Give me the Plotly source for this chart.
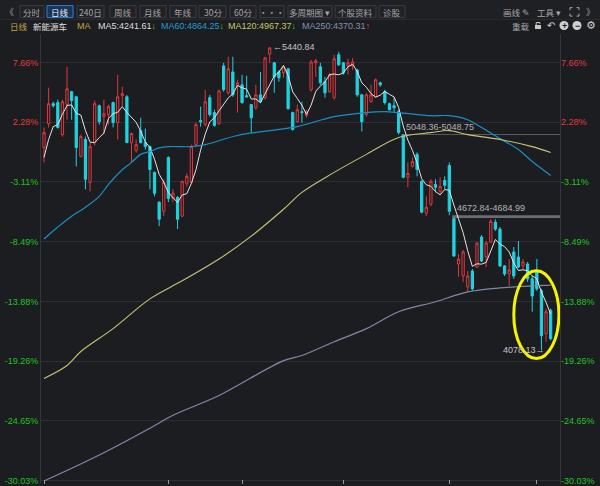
import plotly.graph_objects as go
import pandas as pd

# ---------------- data ----------------
candle_no = list(range(1, 112))
open_p = [4990, 5097, 5187, 5192, 5048, 5183, 5241, 5218, 4950, 5026,
          4833, 5012, 5178, 5129, 5138, 5192, 5102, 5223, 5218, 5012,
          4977, 5066, 5012, 4994, 4878, 4744, 4703, 4945, 4761, 4766,
          4681, 4829, 4833, 5003, 5111, 5093, 5214, 5147, 5097, 5357,
          5236, 5330, 5268, 5272, 5223, 5183, 5169, 5227, 5214, 5411,
          5371, 5330, 5326, 5344, 5147, 5106, 5151, 5133, 5250, 5371,
          5353, 5286, 5241, 5214, 5407, 5371, 5357, 5357, 5339, 5227,
          5138, 5196, 5218, 5281, 5241, 5187, 5178, 5151, 5046, 4856,
          4905, 4959, 4838, 4694, 4735, 4824, 4793, 4842, 4909, 4670,
          4466, 4412, 4363, 4434, 4452, 4587, 4497, 4564, 4654, 4623,
          4457, 4421, 4520, 4497, 4457, 4466, 4399, 4434, 4345, 4152,
          4258]
high_p = [5080, 5259, 5196, 5205, 5205, 5353, 5245, 5223, 5048, 5039,
          5012, 5201, 5183, 5205, 5183, 5196, 5317, 5263, 5226, 5057,
          5026, 5124, 5075, 4999, 4882, 4748, 4847, 4950, 4802, 4770,
          4840, 4873, 5003, 5102, 5174, 5250, 5227, 5160, 5250, 5371,
          5398, 5398, 5295, 5317, 5313, 5185, 5272, 5330, 5398, 5440.84,
          5375, 5339, 5357, 5348, 5151, 5183, 5196, 5160, 5384, 5389,
          5371, 5308, 5326, 5407, 5420, 5375, 5389, 5393, 5344, 5229,
          5236, 5272, 5300, 5286, 5250, 5192, 5214, 5160, 5048.36, 4923,
          4945, 4968, 4842, 4770, 4847, 4847, 4856, 4860, 4923, 4672.84,
          4511, 4529, 4434, 4443, 4564, 4596, 4569, 4667, 4667, 4632,
          4461, 4488, 4542, 4569, 4488, 4475, 4412, 4488, 4354, 4265,
          4265]
low_p = [4923, 5080, 5169, 5075, 5039, 5115, 5115, 4905, 4945, 4802,
         4793, 4999, 5093, 5048, 5093, 5080, 5026, 5174, 5010, 4923,
         4968, 5008, 4981, 4802, 4770, 4636, 4681, 4744, 4744, 4623,
         4676, 4815, 4829, 4994, 5084, 5084, 5129, 5084, 5093, 5241,
         5227, 5218, 5147, 5187, 5214, 5057, 5160, 5192, 5205, 5371,
         5236, 5286, 5304, 5160, 5066, 5102, 5102, 5124, 5241, 5308,
         5272, 5214, 5236, 5205, 5357, 5317, 5317, 5339, 5218, 5062,
         5129, 5192, 5214, 5263, 5183, 5156, 5151, 5048.75, 4851, 4811,
         4900, 4860, 4694, 4681, 4726, 4788, 4780, 4802, 4684.99, 4497,
         4408, 4385, 4340, 4345, 4448, 4475, 4452, 4560, 4614, 4452,
         4412, 4367, 4399, 4448, 4443, 4385, 4251, 4345, 4078.13, 4116,
         4122]
close_p = [5057, 5187, 5178, 5080, 5196, 5254, 5201, 4990, 5039, 4847,
           4994, 5187, 5106, 5142, 5174, 5102, 5218, 5232, 5012, 5053,
           5003, 5012, 4994, 4891, 4784, 4667, 4833, 4761, 4784, 4667,
           4838, 4860, 4994, 5093, 5106, 5196, 5138, 5089, 5245, 5250,
           5344, 5227, 5281, 5192, 5218, 5124, 5227, 5196, 5393, 5438,
           5308, 5304, 5353, 5165, 5071, 5160, 5147, 5151, 5375, 5380,
           5281, 5236, 5317, 5389, 5362, 5326, 5371, 5375, 5227, 5106,
           5227, 5227, 5295, 5272, 5192, 5160, 5169, 5057, 4856, 4873,
           4927, 4891, 4699, 4721, 4838, 4811, 4815, 4820, 4703, 4502,
           4488, 4520, 4412, 4354, 4560, 4479, 4560, 4658, 4623, 4457,
           4421, 4439, 4412, 4452, 4475, 4399, 4322, 4354, 4143, 4251,
           4130]

ma5_head = [4945, 5026, 5084, 5093]          # MA5 of the first four candles (read)

ma60_no = [1, 4, 7, 10, 13, 15, 18, 20, 22, 24, 26, 28, 33, 36, 43, 50, 56,
           64, 71, 75, 78, 85, 89, 93, 96, 100, 104, 107, 111]
ma60_val = [4578, 4632, 4681, 4721, 4770, 4824, 4890, 4923, 4959, 4972, 4988,
            4994, 4994, 5003, 5044, 5066, 5084, 5129, 5147, 5151, 5147, 5133,
            5133, 5115, 5080, 5030, 4981, 4927, 4864.25]

ma120_no = [1, 6, 9, 16, 24, 31, 39, 46, 53, 57, 64, 71, 78, 85, 89, 93, 100,
            107, 111]
ma120_val = [3951, 4009, 4072, 4175, 4309, 4390, 4488, 4591, 4712, 4788, 4878,
             4959, 5035, 5057, 5066, 5048, 5026, 4994, 4967.37]

ma250_no = [1, 13, 24, 29, 39, 53, 57, 64, 71, 78, 86, 93, 100, 107, 111]
ma250_val = [3489, 3606, 3727, 3785, 3874, 4031, 4054, 4116, 4175, 4251, 4296,
             4340, 4358, 4367, 4370.31]

base_price = 4990
pct_ticks = [7.66, 2.28, -3.11, -8.49, -13.88, -19.26, -24.65, -30.03]
month_ticks = [1, 28, 44, 66, 89, 108]

gap_upper = (5048.36, 5048.75)
gap_upper_start = 79
gap_lower = (4672.84, 4684.99)
gap_lower_start = 90

legend_items = [("MA5:4241.61", "#dedede", "↓"),
                ("MA60:4864.25", "#1f9bd6", "↓"),
                ("MA120:4967.37", "#c9c46a", "↓"),
                ("MA250:4370.31", "#8391b4", "↑")]
toolbar_buttons = ["分时", "日线", "240日", "周线", "月线", "年线", "30分", "60分",
                   "•••", "多周期图 ▾", "个股资料", "诊股"]
selected_button = "日线"

highlight_candles = (103.0, 112.8)
highlight_prices = (4040, 4435)

# ---------------- styling / geometry ----------------
W, H = 600, 486
ML, MR, MT, MB = 41, 40, 34, 0
PW, PH = W - ML - MR, H - MT - MB
BG = "#1c1d21"
GRID = "#2c2e33"
RED = "#e0383c"
CYAN = "#1fd3e0"
TXT_RED = "#e23a3a"
TXT_GREEN = "#22c322"
FONT = "Liberation Sans, Noto Sans CJK SC, sans-serif"
CJK = "Noto Sans CJK SC, Liberation Sans, sans-serif"

X_RANGE = [0.349, 113.03]
Y_RANGE = [3475.8, 5500.7]


def fx(x):
    return (x - ML) / PW


def fy(y):
    return (H - MB - y) / PH


ma5 = pd.Series(close_p).rolling(5).mean().tolist()
ma5[:4] = ma5_head

fig = go.Figure()
fig.add_trace(go.Candlestick(
    x=candle_no, open=open_p, high=high_p, low=low_p, close=close_p,
    increasing=dict(line=dict(color=RED, width=1), fillcolor=BG),
    decreasing=dict(line=dict(color=CYAN, width=1), fillcolor=CYAN),
    whiskerwidth=0, showlegend=False, hoverinfo="skip"))
fig.add_trace(go.Scatter(x=candle_no, y=ma5, mode="lines",
                         line=dict(color="#e4e4e4", width=1), showlegend=False))
fig.add_trace(go.Scatter(x=ma60_no, y=ma60_val, mode="lines", line_shape="spline",
                         line=dict(color="#1b8fc4", width=1.2), showlegend=False))
fig.add_trace(go.Scatter(x=ma120_no, y=ma120_val, mode="lines", line_shape="spline",
                         line=dict(color="#c8c473", width=1.1), showlegend=False))
fig.add_trace(go.Scatter(x=ma250_no, y=ma250_val, mode="lines", line_shape="spline",
                         line=dict(color="#7e89a3", width=1.2), showlegend=False,
                         yaxis="y2"))

tickvals = [base_price * (1 + p / 100) for p in pct_ticks]
ticktext = [f"<span style='color:{TXT_RED if p > 0 else TXT_GREEN}'>{p:.2f}%</span>"
            for p in pct_ticks]

fig.update_layout(
    width=W, height=H, margin=dict(l=ML, r=MR, t=MT, b=MB),
    paper_bgcolor=BG, plot_bgcolor=BG,
    font=dict(family=FONT, size=9, color="#b0b0b0"),
    xaxis=dict(range=X_RANGE, showgrid=False, zeroline=False,
               rangeslider=dict(visible=False), tickvals=month_ticks,
               ticks="inside", ticklen=4, tickcolor="#9a9a9a",
               showticklabels=False, showline=False),
    yaxis=dict(range=Y_RANGE, tickvals=tickvals, ticktext=ticktext,
               showgrid=True, gridcolor=GRID, gridwidth=1, zeroline=False,
               showline=True, linecolor="#34363c", mirror=True, ticks="",
               ticklabeloverflow="allow",
               tickfont=dict(family=FONT, size=9)),
    yaxis2=dict(range=Y_RANGE, overlaying="y", side="right", tickvals=tickvals,
                ticktext=ticktext, showgrid=False, zeroline=False, ticks="",
                ticklabeloverflow="allow",
                tickfont=dict(family=FONT, size=9)),
)

shapes = []
annotations = []

# gap lines
shapes.append(dict(type="rect", xref="x", yref="y", x0=gap_upper_start - 0.4,
                   x1=X_RANGE[1], y0=gap_upper[0] - 1.5, y1=gap_upper[1] + 1.5,
                   fillcolor="#6a6c71", line=dict(width=0), layer="below"))
shapes.append(dict(type="rect", xref="x", yref="y", x0=gap_lower_start - 0.4,
                   x1=X_RANGE[1], y0=gap_lower[0], y1=gap_lower[1],
                   fillcolor="#6a6c71", line=dict(width=0), layer="below"))
annotations.append(dict(xref="x", yref="y", x=gap_upper_start, y=gap_upper[1],
                        text=f"{gap_upper[0]:.2f}-{gap_upper[1]:.2f}", showarrow=False,
                        xanchor="left", yanchor="bottom", yshift=0, xshift=1,
                        font=dict(size=9, color="#b4b4b4")))
annotations.append(dict(xref="x", yref="y", x=gap_lower_start, y=gap_lower[1],
                        text=f"{gap_lower[0]:.2f}-{gap_lower[1]:.2f}", showarrow=False,
                        xanchor="left", yanchor="bottom", yshift=0, xshift=1,
                        font=dict(size=9, color="#b4b4b4")))

# extreme labels
hi = max(high_p)
hi_i = candle_no[high_p.index(hi)]
lo = min(low_p)
lo_i = candle_no[low_p.index(lo)]
annotations.append(dict(xref="x", yref="y", x=hi_i, y=hi, text=f"←{hi:.2f}",
                        showarrow=False, xanchor="left", yanchor="middle", xshift=1,
                        font=dict(size=9, color="#c4c4c4")))
annotations.append(dict(xref="x", yref="y", x=lo_i, y=lo, text=f"{lo:.2f}→",
                        showarrow=False, xanchor="right", yanchor="middle", xshift=6,
                        font=dict(size=9, color="#c4c4c4")))

# highlight ellipse
shapes.append(dict(type="circle", xref="x", yref="y",
                   x0=highlight_candles[0], x1=highlight_candles[1],
                   y0=highlight_prices[0], y1=highlight_prices[1],
                   line=dict(color="#f4f400", width=3)))

# ---------- toolbar ----------
shapes.append(dict(type="rect", xref="paper", yref="paper", x0=fx(0), x1=fx(W),
                   y0=fy(19), y1=fy(0), fillcolor="#1f2024", line=dict(width=0),
                   layer="below"))
shapes.append(dict(type="line", xref="paper", yref="paper", x0=fx(0), x1=fx(W),
                   y0=fy(19.5), y1=fy(19.5), line=dict(color="#2b2c31", width=1)))
btn_edges = [(20, 44), (47, 73), (77, 104), (110, 136), (140, 166), (170, 196),
             (199, 226), (230, 256), (260, 284), (288, 332), (335, 376), (379, 405)]
for lab, (x0, x1) in zip(toolbar_buttons, btn_edges):
    sel = lab == selected_button
    shapes.append(dict(type="rect", xref="paper", yref="paper",
                       x0=fx(x0), x1=fx(x1), y0=fy(17.5), y1=fy(5.5),
                       fillcolor="#1a3656" if sel else "#212227",
                       line=dict(color="#2d7fd6" if sel else "#3a3c43", width=1)))
    annotations.append(dict(xref="paper", yref="paper", x=fx((x0 + x1) / 2),
                            y=fy(11.8), text=lab, showarrow=False,
                            font=dict(family=CJK, size=8.5,
                                      color="#e8f0ff" if sel else "#a6a6a6")))
annotations.append(dict(xref="paper", yref="paper", x=fx(9.5), y=fy(11.5), text="《",
                        showarrow=False, font=dict(family=CJK, size=9, color="#9a9a9a")))
annotations.append(dict(xref="paper", yref="paper", x=fx(590), y=fy(11.5), text="》",
                        showarrow=False, font=dict(family=CJK, size=9, color="#9a9a9a")))
annotations.append(dict(xref="paper", yref="paper", x=fx(516), y=fy(11.5),
                        text="画线 ✎", showarrow=False,
                        font=dict(family=CJK, size=8.5, color="#a6a6a6")))
annotations.append(dict(xref="paper", yref="paper", x=fx(549), y=fy(11.5),
                        text="工具 ▾", showarrow=False,
                        font=dict(family=CJK, size=8.5, color="#a6a6a6")))
# expand icon (four corners)
cx0, cx1, cy0, cy1, k = 570, 579, 7.5, 16, 2.5
corner_path = (
    f"M {fx(cx0)},{fy(cy0 + k)} L {fx(cx0)},{fy(cy0)} L {fx(cx0 + k)},{fy(cy0)} "
    f"M {fx(cx1 - k)},{fy(cy0)} L {fx(cx1)},{fy(cy0)} L {fx(cx1)},{fy(cy0 + k)} "
    f"M {fx(cx1)},{fy(cy1 - k)} L {fx(cx1)},{fy(cy1)} L {fx(cx1 - k)},{fy(cy1)} "
    f"M {fx(cx0 + k)},{fy(cy1)} L {fx(cx0)},{fy(cy1)} L {fx(cx0)},{fy(cy1 - k)}")
shapes.append(dict(type="path", xref="paper", yref="paper", path=corner_path,
                   line=dict(color="#a6a6a6", width=1)))

# ---------- legend row ----------
LY = 25.5
annotations.append(dict(xref="paper", yref="paper", x=fx(8), y=fy(LY), text="日线",
                        showarrow=False, xanchor="left",
                        font=dict(family=CJK, size=8.5, color="#c9a646")))
annotations.append(dict(xref="paper", yref="paper", x=fx(31), y=fy(LY), text="新能源车",
                        showarrow=False, xanchor="left",
                        font=dict(family=CJK, size=8.5, color="#e0e0e0")))
annotations.append(dict(xref="paper", yref="paper", x=fx(75), y=fy(LY), text="MA",
                        showarrow=False, xanchor="left",
                        font=dict(family=FONT, size=9, color="#c9a646")))
leg_x = [96, 159, 226, 300]
for (txt, col, arr), x in zip(legend_items, leg_x):
    acol = "#2fd02f" if arr == "↓" else "#ff3030"
    annotations.append(dict(xref="paper", yref="paper", x=fx(x), y=fy(LY),
                            text=f"{txt}<span style='color:{acol}'><b>{arr}</b></span>",
                            showarrow=False, xanchor="left",
                            font=dict(family=FONT, size=9, color=col)))
annotations.append(dict(xref="paper", yref="paper", x=fx(521), y=fy(LY), text="重载",
                        showarrow=False, font=dict(family=CJK, size=8.5, color="#a6a6a6")))
# lock icon
shapes.append(dict(type="rect", xref="paper", yref="paper", x0=fx(535), x1=fx(541),
                   y0=fy(29), y1=fy(25), fillcolor="#c8c8c8", line=dict(width=0)))
shapes.append(dict(type="path", xref="paper", yref="paper",
                   path=f"M {fx(536.2)},{fy(25)} L {fx(536.2)},{fy(22.5)} "
                        f"L {fx(539.8)},{fy(22.5)} L {fx(539.8)},{fy(24)}",
                   line=dict(color="#c8c8c8", width=1)))
annotations.append(dict(xref="paper", yref="paper", x=fx(551), y=fy(LY), text="↶",
                        showarrow=False, font=dict(family="DejaVu Sans", size=10,
                                                   color="#d0d0d0")))
for cxp, sym in ((564, "+"), (577, "−")):
    shapes.append(dict(type="circle", xref="paper", yref="paper",
                       x0=fx(cxp - 4.5), x1=fx(cxp + 4.5), y0=fy(LY + 4.5),
                       y1=fy(LY - 4.5), fillcolor="#d0d0d0", line=dict(width=0)))
    annotations.append(dict(xref="paper", yref="paper", x=fx(cxp), y=fy(LY), text=f"<b>{sym}</b>",
                            showarrow=False, font=dict(family=FONT, size=9, color=BG)))
annotations.append(dict(xref="paper", yref="paper", x=fx(591), y=fy(LY), text="⚙",
                        showarrow=False, font=dict(family="DejaVu Sans", size=11,
                                                   color="#d0d0d0")))

for a in annotations:
    a.setdefault("xanchor", "center")
    a.setdefault("yanchor", "middle")

fig.update_layout(shapes=shapes, annotations=annotations)
fig.write_html("out.html")
